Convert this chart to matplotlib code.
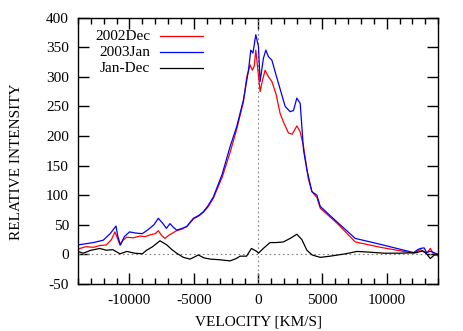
import matplotlib.pyplot as plt
from matplotlib.ticker import MultipleLocator

plt.rcParams['font.family'] = ['Liberation Serif', 'DejaVu Serif']
plt.rcParams['axes.unicode_minus'] = False

# 2002Dec (red)
v_dec = [-14000, -13400, -12800, -12300, -11800, -11400, -11130, -10950, -10740, -10500,
         -10220, -9700, -9180, -8800, -8400, -8000, -7760, -7500, -7240, -6900,
         -6330, -5900, -5550, -5030, -4600, -4260, -3900, -3480, -2800, -2180,
         -1660, -1140, -880, -620, -450, -300, -180, -60, 155, 350,
         545, 800, 1070, 1400, 1710, 2000, 2360, 2650, 3010, 3270,
         3530, 3900, 4180, 4570, 4830, 6120, 7550, 9500, 12090, 12610,
         12900, 13150, 13380, 13600, 14000]
i_dec = [9, 13, 12, 15, 16, 25, 38, 28, 16, 24,
         29, 28, 31, 30, 33, 35, 40, 32, 27, 33,
         40, 43, 47, 60, 65, 71, 80, 95, 130, 172,
         212, 258, 300, 320, 311, 318, 345, 320, 275, 295,
         311, 300, 292, 270, 238, 222, 205, 203, 217, 207,
         182, 128, 106, 96, 78, 53, 21, 12, 2, 8,
         4, 3, 10, 2, -3]

# 2003Jan (blue)
v_jan = [-14000, -13400, -12800, -12040, -11500, -11050, -10900, -10700, -10400, -10000,
         -9500, -9000, -8540, -8100, -7760, -7400, -7130, -6850, -6600, -6330,
         -5900, -5550, -5030, -4600, -4260, -3900, -3480, -2800, -2180, -1660,
         -1140, -750, -570, -400, -180, 25, 155, 410, 600, 800,
         1070, 1300, 1580, 2100, 2490, 2750, 3010, 3270, 3530, 3790,
         4180, 4570, 4830, 6120, 7550, 9500, 12090, 12400, 12610, 12900,
         13100, 13300, 13450, 14000]
i_jan = [16, 18, 20, 24, 35, 48, 30, 16, 30, 38,
         36, 35, 42, 50, 61, 52, 44, 52, 46, 41,
         44, 47, 61, 66, 72, 82, 97, 135, 182, 216,
         261, 311, 345, 340, 371, 351, 292, 331, 345, 334,
         328, 310, 289, 250, 241, 243, 264, 255, 176, 143,
         106, 100, 81, 55, 27, 17, 3, 8, 10, 11,
         3, 5, 5, 0]

# Jan-Dec difference (black)
v_diff = [-14000, -13600, -13000, -12300, -11800, -11300, -10740, -10200, -9600, -9000,
          -8670, -8200, -7630, -7100, -6700, -6330, -5810, -5290, -4640, -4200,
          -3700, -3000, -2180, -1700, -1400, -900, -520, -100, 25, 400,
          930, 1400, 1960, 2490, 3010, 3400, 3790, 4200, 4830, 5600,
          6800, 7680, 8500, 9800, 11000, 12300, 12800, 13100, 13380, 13700,
          14000]
i_diff = [5, 2, 7, 10, 7, 8, 1, 5, 2, 1,
          7, 13, 23, 16, 8, 2, -5, -8, -1, -6,
          -8, -9, -11, -7, -3, -3, 10, 5, 2, 10,
          20, 20, 21, 27, 34, 25, 7, -1, -5, -3,
          1, 5, 4, 2, 2, 3, 6, 1, -7, -1,
          0]

series = [(v_dec, i_dec, 'red', '2002Dec'),
          (v_jan, i_jan, 'blue', '2003Jan'),
          (v_diff, i_diff, 'black', 'Jan-Dec')]

fig = plt.figure(figsize=(4.63, 3.31), dpi=100)
ax = fig.add_axes([0.1685, 0.142, 0.778, 0.805])

ax.axhline(0, color='gray', lw=0.8, ls=(0, (1.5, 2.5)))
ax.axvline(0, color='gray', lw=0.8, ls=(0, (1.5, 2.5)))

for k, (v, inten, col, lab) in enumerate(series):
    ax.plot(v, inten, color=col, lw=0.9)
    # gnuplot-style key: right-aligned text, sample line after it
    yk = 0.930 - k * 0.06
    ax.text(0.2, yk, lab, transform=ax.transAxes, ha='right', va='center', fontsize=11)
    ax.plot([0.228, 0.347], [yk, yk], color=col, lw=0.9, transform=ax.transAxes)

ax.set_xlim(-14000, 14000)
ax.set_ylim(-50, 400)
ax.xaxis.set_major_locator(MultipleLocator(5000))
ax.xaxis.set_minor_locator(MultipleLocator(1000))
ax.yaxis.set_major_locator(MultipleLocator(50))
ax.tick_params(which='both', direction='in', top=True, right=True, labelsize=11)
ax.tick_params(which='major', length=8, width=1)
ax.tick_params(which='minor', length=4, width=1)
ax.tick_params(axis='y', which='minor', left=False, right=False)
ax.tick_params(axis='x', pad=7)
ax.tick_params(axis='y', pad=6.5)
for s in ax.spines.values():
    s.set_linewidth(1)

ax.set_xlabel('VELOCITY [KM/S]', fontsize=11, labelpad=6)
ax.set_ylabel('RELATIVE INTENSITY', fontsize=11, labelpad=17, y=0.46)

fig.savefig('out.png', dpi=100)
